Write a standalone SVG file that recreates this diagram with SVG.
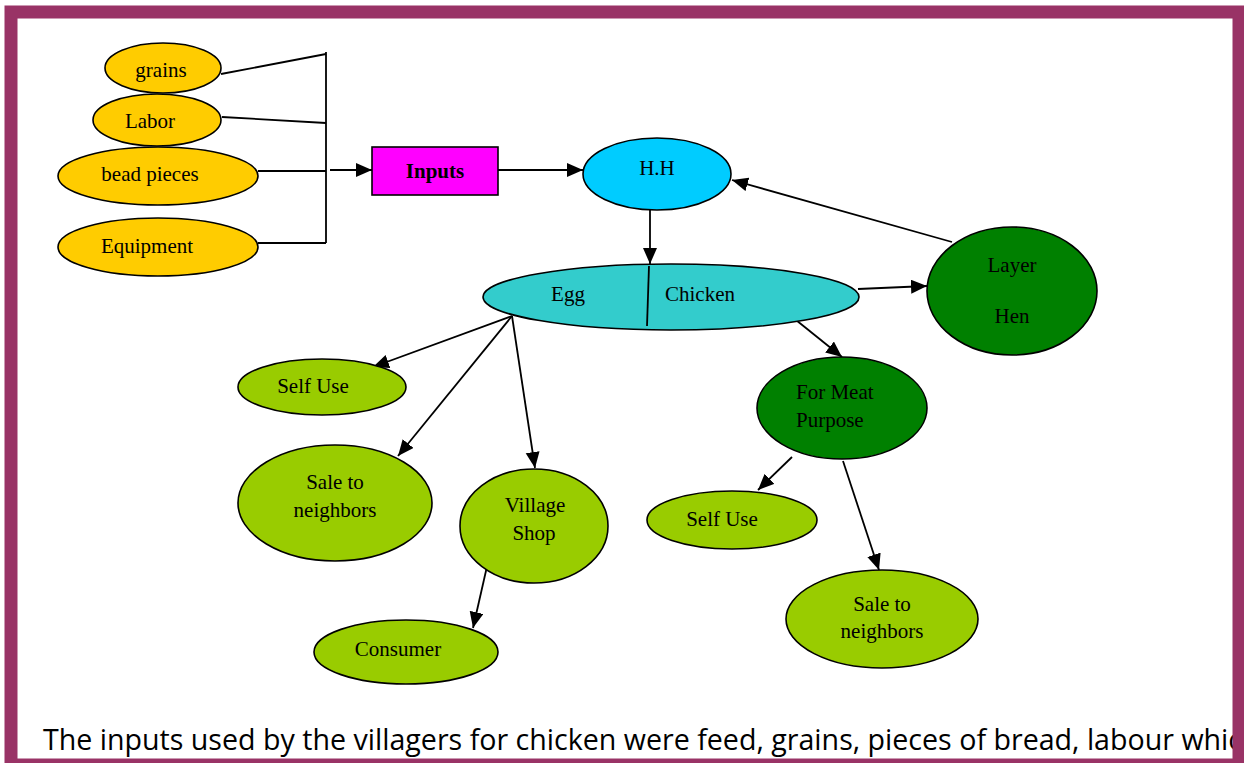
<svg xmlns="http://www.w3.org/2000/svg" width="1244" height="763" viewBox="0 0 1244 763">
  <defs>
    <marker id="arrow" markerUnits="userSpaceOnUse" markerWidth="17" markerHeight="15" refX="16" refY="7" orient="auto">
      <path d="M0,0 L16,7 L0,14 z" fill="#000"/>
    </marker>
    <style>
      .node { stroke: #000; stroke-width: 1.6; }
      .yellow { fill: #FFCC00; }
      .lime { fill: #99CC00; }
      .teal { fill: #33CCCC; }
      .cyan { fill: #00CCFF; }
      .green { fill: #008000; }
      .magenta { fill: #FF00FF; }
      .lbl { font-family: "Liberation Serif", "Times New Roman", serif; font-size: 21px; fill: #000; }
      .mid { text-anchor: middle; }
      .edge { stroke: #000; stroke-width: 1.8; fill: none; }
      .arr { marker-end: url(#arrow); }
      .caption { font-family: "Open Sans", "DejaVu Sans", sans-serif; font-size: 30px; fill: #000; }
    </style>
  </defs>

  <rect x="0" y="0" width="1244" height="763" fill="#fff"/>

  <!-- caption line (runs under the frame on the right) -->
  <text class="caption" x="43" y="750" textLength="1199" lengthAdjust="spacingAndGlyphs">The inputs used by the villagers for chicken were feed, grains, pieces of bread, labour whic</text>

  <!-- page frame -->
  <rect x="11" y="12" width="1228" height="753" fill="none" stroke="#993366" stroke-width="13"/>

  <!-- connectors -->
  <g id="connectors">
    <line class="edge" x1="326" y1="52" x2="326" y2="243"/>
    <line class="edge" x1="221" y1="74" x2="326" y2="54"/>
    <line class="edge" x1="222" y1="117" x2="326" y2="123"/>
    <line class="edge" x1="258" y1="171" x2="326" y2="171"/>
    <line class="edge" x1="258" y1="243" x2="326" y2="243"/>
    <line class="edge arr" x1="330" y1="170" x2="372" y2="170"/>
    <line class="edge arr" x1="498" y1="170" x2="583" y2="170"/>
    <line class="edge arr" x1="650" y1="210" x2="650" y2="264"/>
    <line class="edge arr" x1="858" y1="289" x2="927" y2="286"/>
    <line class="edge arr" x1="952" y1="242" x2="732" y2="180"/>
    <line class="edge arr" x1="512" y1="316" x2="373" y2="367"/>
    <line class="edge arr" x1="512" y1="316" x2="398" y2="456"/>
    <line class="edge arr" x1="512" y1="316" x2="535" y2="468"/>
    <line class="edge arr" x1="488" y1="562" x2="473" y2="628"/>
    <line class="edge arr" x1="791" y1="316" x2="842" y2="357"/>
    <line class="edge arr" x1="792" y1="457" x2="758" y2="490"/>
    <line class="edge arr" x1="843" y1="461" x2="879" y2="570"/>
  </g>

  <!-- input items -->
  <g id="grains">
    <ellipse class="node yellow" cx="163" cy="68" rx="58" ry="25"/>
    <text class="lbl mid" x="161" y="77">grains</text>
  </g>
  <g id="labor">
    <ellipse class="node yellow" cx="157" cy="120" rx="64" ry="26"/>
    <text class="lbl mid" x="150" y="128">Labor</text>
  </g>
  <g id="bead-pieces">
    <ellipse class="node yellow" cx="158" cy="176" rx="100" ry="29"/>
    <text class="lbl mid" x="150" y="181">bead pieces</text>
  </g>
  <g id="equipment">
    <ellipse class="node yellow" cx="158" cy="247" rx="100" ry="29"/>
    <text class="lbl mid" x="147" y="253">Equipment</text>
  </g>

  <g id="inputs">
    <rect class="node magenta" x="372" y="147" width="126" height="48"/>
    <text class="lbl mid" x="435" y="178" font-weight="bold">Inputs</text>
  </g>

  <g id="hh">
    <ellipse class="node cyan" cx="657" cy="174" rx="74" ry="36"/>
    <text class="lbl mid" x="657" y="175">H.H</text>
  </g>

  <g id="egg-chicken">
    <ellipse class="node teal" cx="671" cy="297" rx="188" ry="33"/>
    <line class="edge" x1="649" y1="266" x2="647" y2="326"/>
    <text class="lbl mid" x="568" y="301">Egg</text>
    <text class="lbl mid" x="700" y="301">Chicken</text>
  </g>

  <g id="layer-hen">
    <ellipse class="node green" cx="1012" cy="291" rx="85" ry="64"/>
    <text class="lbl mid" x="1012" y="272">Layer</text>
    <text class="lbl mid" x="1012" y="323">Hen</text>
  </g>

  <g id="self-use-egg">
    <ellipse class="node lime" cx="322" cy="387" rx="84" ry="28"/>
    <text class="lbl mid" x="313" y="393">Self Use</text>
  </g>
  <g id="sale-neighbors-egg">
    <ellipse class="node lime" cx="335" cy="503" rx="97" ry="58"/>
    <text class="lbl mid" x="335" y="489">Sale to</text>
    <text class="lbl mid" x="335" y="517">neighbors</text>
  </g>
  <g id="village-shop">
    <ellipse class="node lime" cx="534" cy="526" rx="74" ry="57"/>
    <text class="lbl mid" x="535" y="512">Village</text>
    <text class="lbl mid" x="534" y="540">Shop</text>
  </g>
  <g id="consumer">
    <ellipse class="node lime" cx="406" cy="652" rx="92" ry="32"/>
    <text class="lbl mid" x="398" y="656">Consumer</text>
  </g>

  <g id="meat-purpose">
    <ellipse class="node green" cx="842" cy="408" rx="85" ry="51"/>
    <text class="lbl" x="796" y="399">For Meat</text>
    <text class="lbl" x="796" y="427">Purpose</text>
  </g>
  <g id="self-use-meat">
    <ellipse class="node lime" cx="732" cy="520" rx="85" ry="29"/>
    <text class="lbl mid" x="722" y="526">Self Use</text>
  </g>
  <g id="sale-neighbors-meat">
    <ellipse class="node lime" cx="882" cy="619" rx="96" ry="49"/>
    <text class="lbl mid" x="882" y="611">Sale to</text>
    <text class="lbl mid" x="882" y="638">neighbors</text>
  </g>
</svg>
